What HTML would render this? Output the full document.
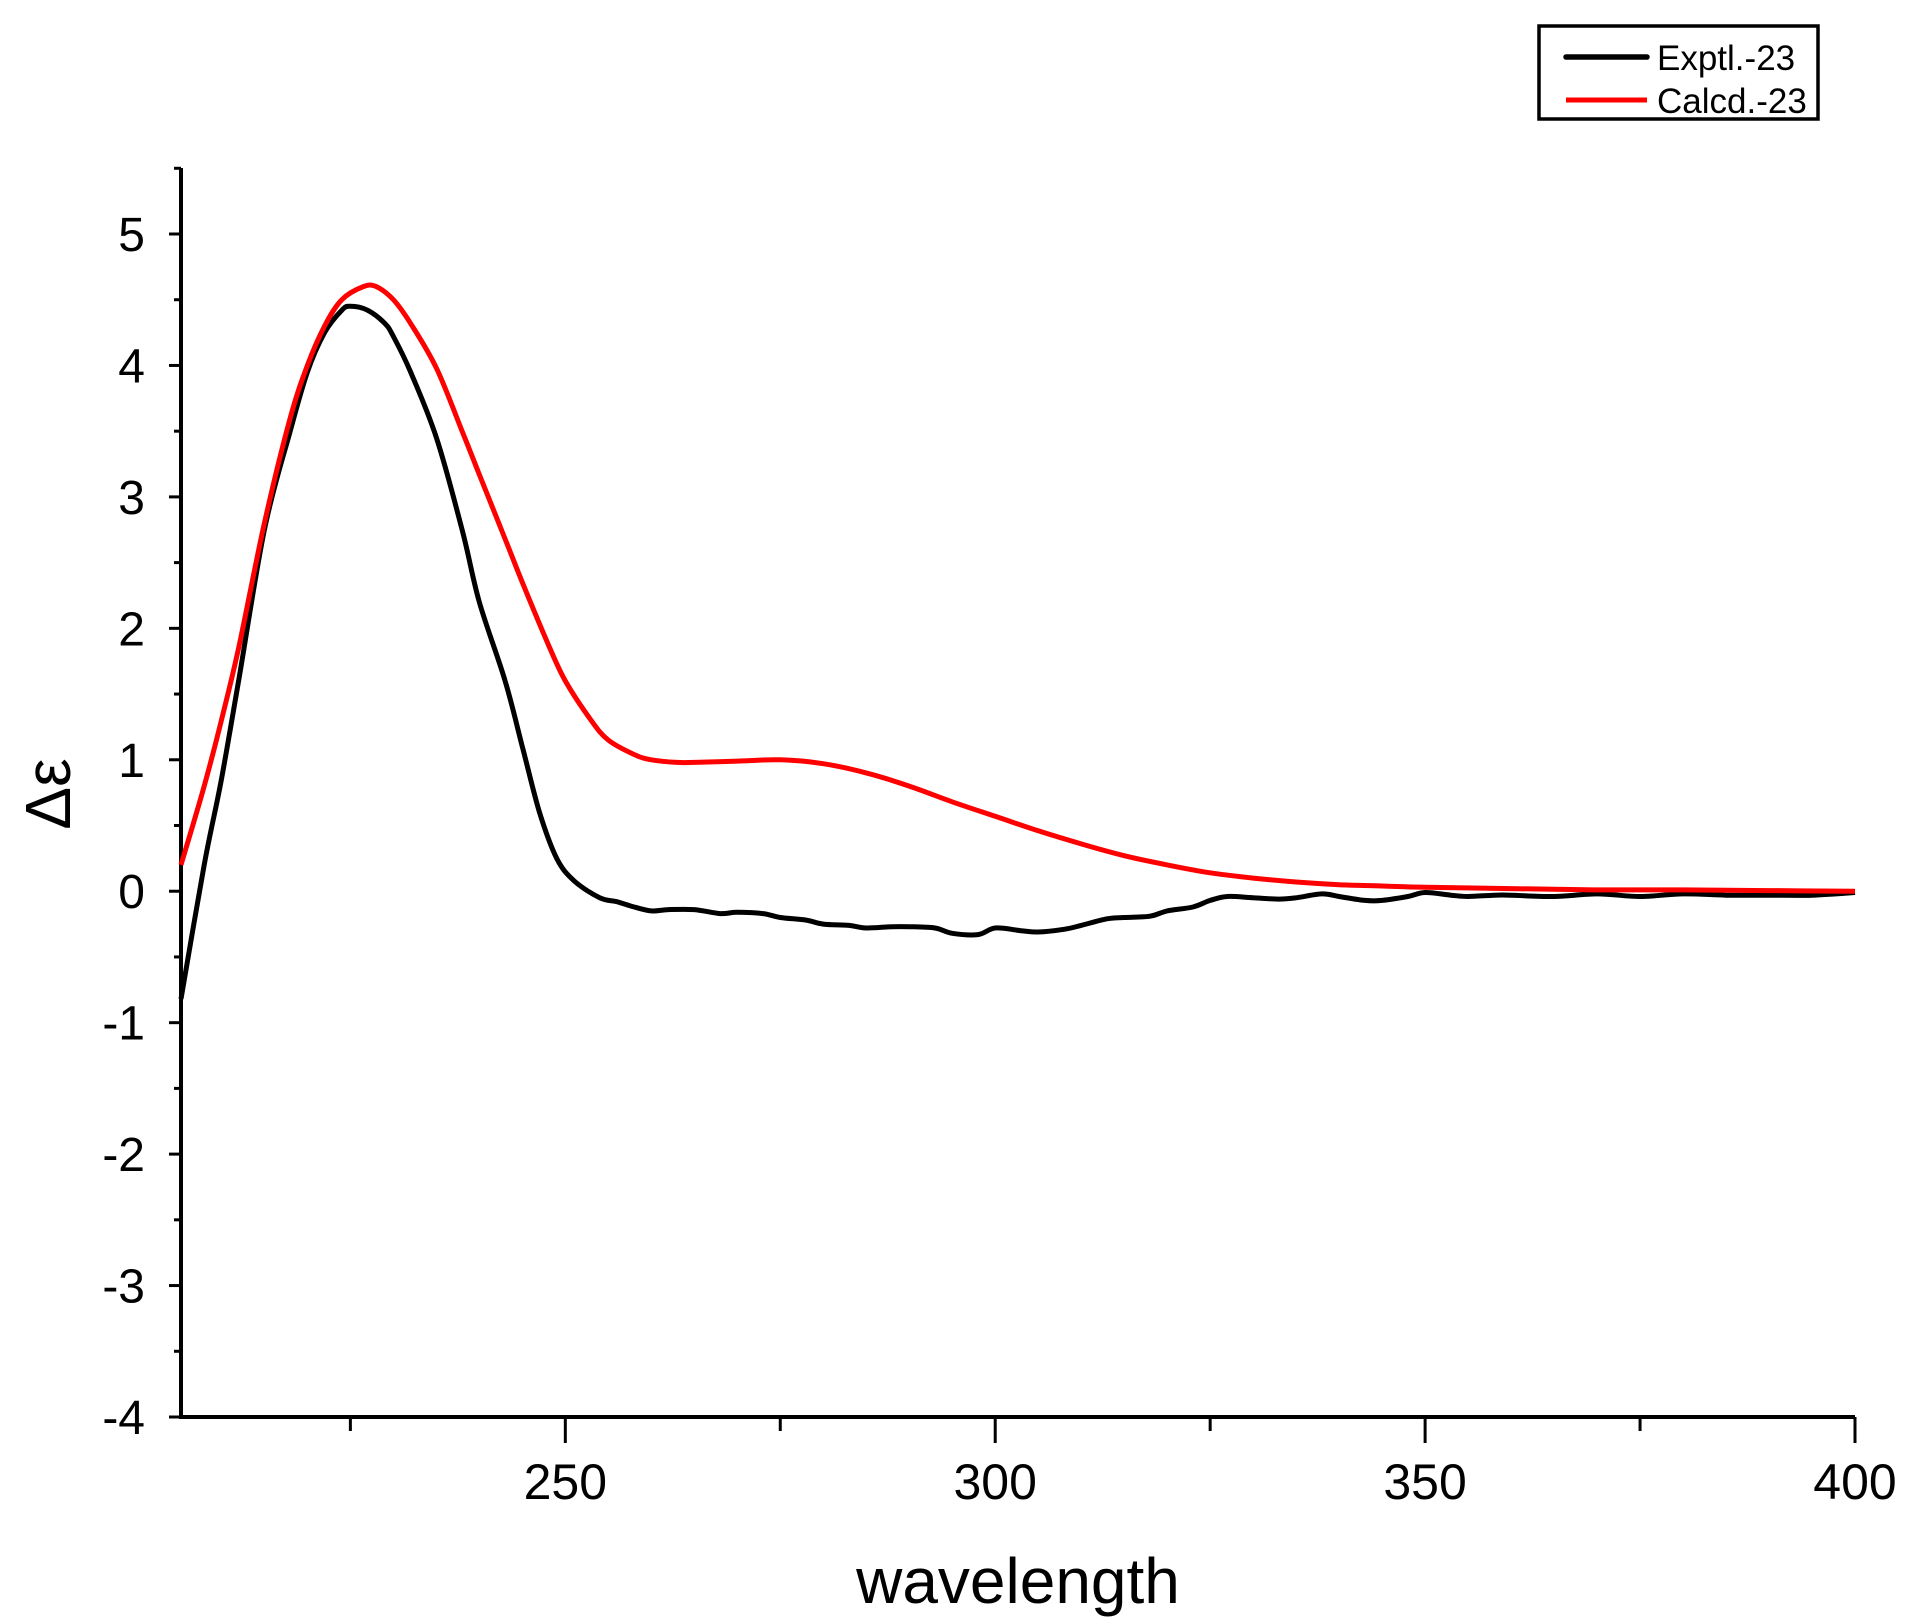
<!DOCTYPE html>
<html><head><meta charset="utf-8"><style>
html,body{margin:0;padding:0;background:#fff}
svg{display:block}
text{font-family:"Liberation Sans",Arial,sans-serif;fill:#000}
</style></head><body>
<svg id="chart" width="1912" height="1624" viewBox="0 0 1912 1624">
<g id="axes"></g>
<g id="series"></g>
<text x="1018" y="1603" font-size="64" text-anchor="middle">wavelength</text>
<text transform="translate(70,794) rotate(-90)" font-size="64" text-anchor="middle">Δε</text>
<g>
<rect x="1539" y="26" width="279" height="93" fill="#fff" stroke="#000" stroke-width="3.5"/>
<line x1="1566" y1="57" x2="1647" y2="57" stroke="#000" stroke-width="5.5" stroke-linecap="round"/>
<text x="1657" y="70" font-size="35">Exptl.-23</text>
<line x1="1566" y1="100" x2="1647" y2="100" stroke="#f00" stroke-width="5"/>
<text x="1657" y="113" font-size="35">Calcd.-23</text>
</g>
</svg>
<script>
const xTicks=[250,300,350,400];
const xMinor=[225,275,325,375];
const yTicks=[-4,-3,-2,-1,0,1,2,3,4,5];
const exptlX=[205.3,208,210,212,215,218,220,222,224,225,227,229,230,232,235,238,240,243,245,247,249,251,254,256,258,260,262,265,268,270,273,275,278,280,283,285,288,290,293,295,298,300,303,305,308,310,313,315,318,320,323,325,327,330,333,335,338,340,343,345,348,350,353,355,358,360,365,370,375,380,385,390,395,400];
const exptlY=[-0.82,0.2,0.85,1.6,2.75,3.5,3.95,4.25,4.42,4.45,4.42,4.32,4.22,3.95,3.45,2.75,2.2,1.6,1.1,0.6,0.25,0.08,-0.05,-0.08,-0.12,-0.15,-0.14,-0.14,-0.17,-0.16,-0.17,-0.2,-0.22,-0.25,-0.26,-0.28,-0.27,-0.27,-0.28,-0.32,-0.33,-0.28,-0.3,-0.31,-0.29,-0.26,-0.21,-0.2,-0.19,-0.15,-0.12,-0.07,-0.04,-0.05,-0.06,-0.05,-0.02,-0.04,-0.07,-0.07,-0.04,-0.01,-0.03,-0.04,-0.03,-0.03,-0.04,-0.02,-0.04,-0.02,-0.03,-0.03,-0.03,-0.01];
const calcdX=[205.3,208,210,212,215,218,220,222,224,226.5,228,230,232,235,238,240,243,245,248,250,253,255,258,260,263,265,270,275,280,285,290,295,300,305,310,315,320,325,330,335,340,345,350,360,370,380,390,400];
const calcdY=[0.2,0.8,1.3,1.85,2.8,3.6,4.0,4.3,4.5,4.6,4.6,4.5,4.32,3.98,3.5,3.17,2.68,2.35,1.88,1.6,1.3,1.15,1.04,1.0,0.98,0.98,0.99,1.0,0.97,0.9,0.8,0.68,0.57,0.46,0.36,0.27,0.2,0.14,0.1,0.07,0.05,0.04,0.03,0.02,0.01,0.01,0.005,0.0];

const X0=181,X1=1855,Y0=1417,Y1=234;
const xMin=205.3,xMax=400,yMin=-4,yMax=5;
const sx=v=>X0+(v-xMin)/(xMax-xMin)*(X1-X0);
const sy=v=>Y0-(v-yMin)/(yMax-yMin)*(Y0-Y1);
const NS='http://www.w3.org/2000/svg';
const axes=document.getElementById('axes');
function mk(tag,attrs,parent){const e=document.createElementNS(NS,tag);for(const k in attrs)e.setAttribute(k,attrs[k]);parent.appendChild(e);return e;}
let e;
e=mk('line',{x1:X0,y1:168,x2:X0,y2:Y0+2,stroke:'#000','stroke-width':4},axes);


e=mk('line',{x1:X0-2,y1:Y0,x2:X1,y2:Y0,stroke:'#000','stroke-width':4},axes);


yTicks.forEach(v=>{
  const y=sy(v);
  e=mk('line',{x1:X0-12,y1:y,x2:X0,y2:y,stroke:'#000','stroke-width':3},axes);
  
  
  if(v<5){const ym=sy(v+0.5);
  e=mk('line',{x1:X0-7,y1:ym,x2:X0,y2:ym,stroke:'#000','stroke-width':3},axes);
  
  }
  e=mk('text',{x:X0-36,y:y+17,'font-size':48,'text-anchor':'end'},axes);
  e.textContent=v;
  
  
});
e=mk('line',{x1:X0-7,y1:sy(5.5),x2:X0,y2:sy(5.5),stroke:'#000','stroke-width':3},axes);


xTicks.forEach(v=>{
  const x=sx(v);
  e=mk('line',{x1:x,y1:Y0,x2:x,y2:Y0+26,stroke:'#000','stroke-width':3},axes);
  
  
  e=mk('text',{x:x,y:Y0+82,'font-size':50,'text-anchor':'middle'},axes);
  e.textContent=v;
  
  
});
xMinor.forEach(v=>{
  const x=sx(v);
  e=mk('line',{x1:x,y1:Y0,x2:x,y2:Y0+14,stroke:'#000','stroke-width':3},axes);
  
  
});
const ser=document.getElementById('series');
function path(xs,ys){
  const p=xs.map((x,i)=>[sx(x),sy(ys[i])]);
  let d='M'+p[0][0].toFixed(1)+','+p[0][1].toFixed(1);
  for(let i=0;i<p.length-1;i++){
    const p0=p[Math.max(0,i-1)],p1=p[i],p2=p[i+1],p3=p[Math.min(p.length-1,i+2)];
    const c1x=p1[0]+(p2[0]-p0[0])/6,c1y=p1[1]+(p2[1]-p0[1])/6;
    const c2x=p2[0]-(p3[0]-p1[0])/6,c2y=p2[1]-(p3[1]-p1[1])/6;
    d+=' C'+c1x.toFixed(1)+','+c1y.toFixed(1)+' '+c2x.toFixed(1)+','+c2y.toFixed(1)+' '+p2[0].toFixed(1)+','+p2[1].toFixed(1);
  }
  return d;
}
e=mk('path',{d:path(exptlX,exptlY),fill:'none',stroke:'#000','stroke-width':5,'stroke-linejoin':'round'},ser);


e=mk('path',{d:path(calcdX,calcdY),fill:'none',stroke:'#f00','stroke-width':5,'stroke-linejoin':'round'},ser);


</script>
</body></html>
